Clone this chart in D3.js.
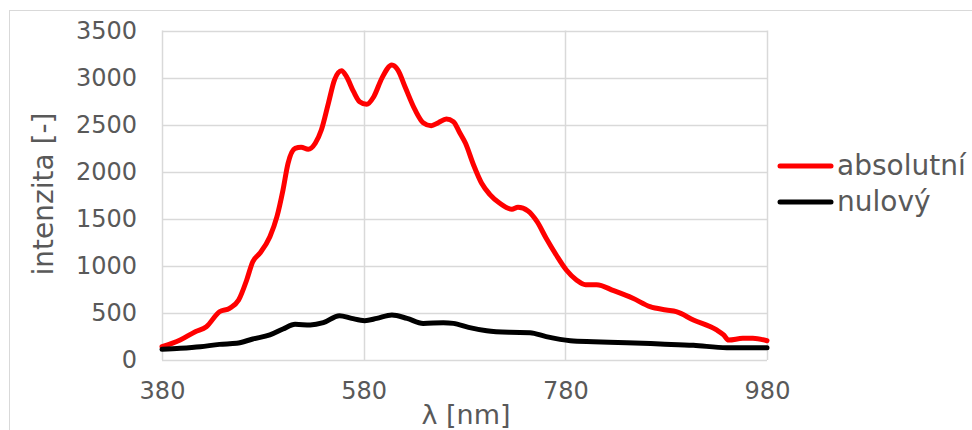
<!DOCTYPE html>
<html>
<head>
<meta charset="utf-8">
<script src="https://cdn.jsdelivr.net/npm/d3@7"></script>
<style>
  html, body { margin: 0; padding: 0; background: #fff; }
  svg { display: block; }
  text { font-family: "DejaVu Sans", Verdana, sans-serif; fill: #595959; }
</style>
</head>
<body>
<svg id="chart" width="972" height="430"></svg>
<script>
// Wavelength (nm) and intensity samples for each spectrum
const absolutniX = [380, 398, 413, 424, 437, 447, 456, 464, 470, 477, 487, 494, 500, 505, 512, 518, 525, 532, 538, 545, 551, 558, 563, 570, 576, 583, 590, 598, 608, 614, 621, 631, 639, 647, 654, 662, 669, 675, 681, 689, 697, 705, 715, 727, 733, 743, 752, 761, 771, 781, 791, 800, 811, 828, 847, 864, 880, 890, 907, 930, 937, 942, 956, 966, 980];
const absolutniY = [141, 212, 301, 354, 513, 549, 637, 850, 1044, 1133, 1310, 1522, 1806, 2089, 2248, 2260, 2238, 2302, 2443, 2727, 2974, 3073, 3010, 2850, 2744, 2716, 2797, 2992, 3134, 3080, 2903, 2656, 2521, 2489, 2521, 2560, 2532, 2420, 2302, 2071, 1877, 1760, 1665, 1601, 1622, 1583, 1469, 1293, 1115, 956, 850, 800, 800, 736, 655, 566, 531, 513, 425, 319, 266, 212, 230, 230, 205];

const nulovyX = [380, 398, 418, 437, 454, 470, 487, 500, 512, 527, 540, 556, 568, 581, 593, 608, 623, 639, 659, 669, 684, 702, 725, 745, 761, 785, 808, 841, 874, 907, 940, 980];
const nulovyY = [113, 124, 141, 166, 177, 223, 266, 329, 379, 372, 396, 471, 442, 418, 442, 478, 442, 389, 396, 389, 347, 311, 294, 290, 248, 205, 195, 184, 170, 156, 131, 131];

const xTicks = [380, 580, 780, 980];
const yTicks = [0, 500, 1000, 1500, 2000, 2500, 3000, 3500];

const seriesNames = ["absolutní", "nulový"];
const seriesColors = ["#ff0000", "#000000"];
const xLabel = "λ [nm]";
const yLabel = "intenzita [-]";

const svg = d3.select("#chart");

// chart frame
svg.append("rect")
  .attr("x", 9.5).attr("y", 10.5)
  .attr("width", 980).attr("height", 440)
  .attr("fill", "none").attr("stroke", "#d9d9d9").attr("stroke-width", 1);

const plot = { left: 162, right: 767, top: 30.5, bottom: 360 };

const x = d3.scaleLinear().domain([380, 980]).range([plot.left, plot.right]);
const y = d3.scaleLinear().domain([0, 3500]).range([plot.bottom, plot.top]);

// gridlines
const grid = svg.append("g");
grid.selectAll("line.h").data(yTicks).join("line")
  .attr("x1", plot.left).attr("x2", plot.right)
  .attr("y1", d => Math.round(y(d)) + 0.5).attr("y2", d => Math.round(y(d)) + 0.5)
  .attr("stroke", "#d9d9d9").attr("stroke-width", 1.5);
grid.selectAll("line.v").data(xTicks).join("line")
  .attr("y1", plot.top).attr("y2", plot.bottom)
  .attr("x1", d => Math.round(x(d)) + 0.5).attr("x2", d => Math.round(x(d)) + 0.5)
  .attr("stroke", "#d9d9d9").attr("stroke-width", 1.5);

// axes (labels only, no domain or tick marks)
const yAxis = svg.append("g")
  .attr("transform", `translate(${plot.left},0)`)
  .call(d3.axisLeft(y).tickValues(yTicks).tickSize(0).tickPadding(25).tickFormat(d3.format("d")));
yAxis.select(".domain").remove();
yAxis.selectAll("text").style("font-size", "24px").attr("fill", "#595959")
  .style("font-family", "DejaVu Sans, sans-serif");

const xAxis = svg.append("g")
  .attr("transform", `translate(0,${plot.bottom})`)
  .call(d3.axisBottom(x).tickValues(xTicks).tickSize(0).tickPadding(22).tickFormat(d3.format("d")));
xAxis.select(".domain").remove();
xAxis.selectAll("text").style("font-size", "24px").attr("fill", "#595959")
  .style("font-family", "DejaVu Sans, sans-serif");

// axis titles
svg.append("text")
  .attr("x", 466).attr("y", 424)
  .attr("text-anchor", "middle")
  .style("font-size", "27px")
  .text(xLabel);

svg.append("text")
  .attr("transform", "translate(53,194) rotate(-90)")
  .attr("text-anchor", "middle")
  .style("font-size", "28px")
  .text(yLabel);

// series lines
const series = [
  { xs: absolutniX, ys: absolutniY },
  { xs: nulovyX, ys: nulovyY }
];
const line = d3.line()
  .x(d => x(d[0])).y(d => y(d[1]))
  .curve(d3.curveMonotoneX);

series.forEach((s, i) => {
  const pts = s.xs.map((v, j) => [v, s.ys[j]]);
  svg.append("path")
    .datum(pts)
    .attr("d", line)
    .attr("fill", "none")
    .attr("stroke", seriesColors[i])
    .attr("stroke-width", 5)
    .attr("stroke-linejoin", "round")
    .attr("stroke-linecap", "round");
});

// legend
const legend = svg.append("g");
seriesNames.forEach((name, i) => {
  const ly = 166 + i * 36;
  legend.append("line")
    .attr("x1", 780).attr("x2", 831)
    .attr("y1", ly).attr("y2", ly)
    .attr("stroke", seriesColors[i]).attr("stroke-width", 5)
    .attr("stroke-linecap", "round");
  legend.append("text")
    .attr("x", 837).attr("y", ly + 9)
    .style("font-size", "28px")
    .text(name);
});
</script>
</body>
</html>
